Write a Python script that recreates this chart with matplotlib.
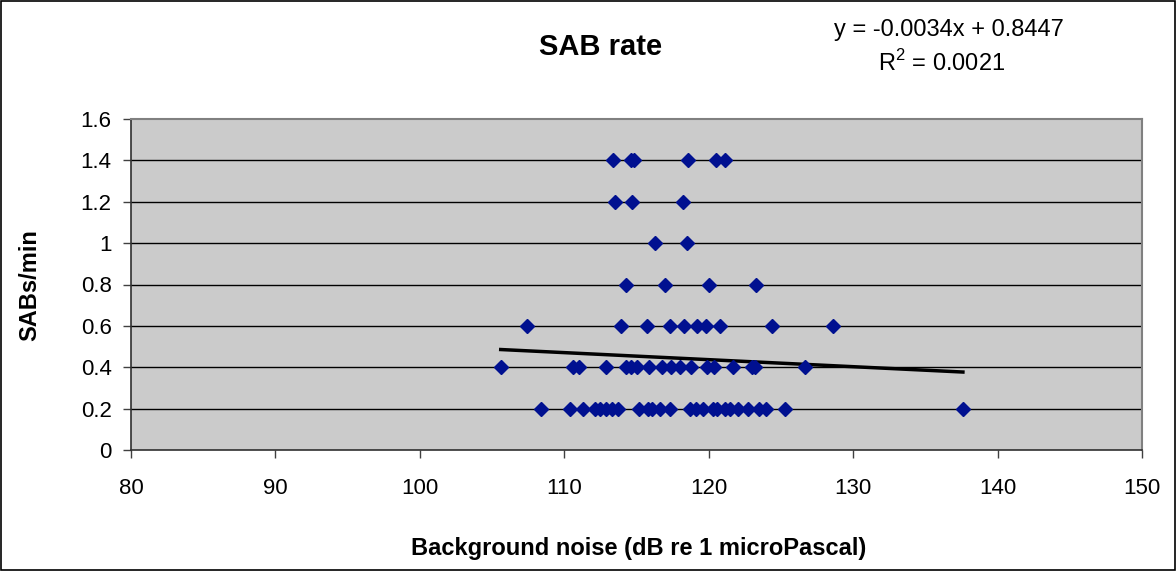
import numpy as np
import matplotlib
matplotlib.use('Agg')
import matplotlib.pyplot as plt
from matplotlib.patches import Rectangle

plt.rcParams['font.family'] = ['Liberation Sans', 'DejaVu Sans']
plt.rcParams['mathtext.fontset'] = 'custom'
plt.rcParams['mathtext.rm'] = 'Liberation Sans'

# background noise (dB) for each SAB rate level
x_02 = [108.4, 110.4, 111.3, 112.1, 112.5, 112.9, 113.3, 113.7, 115.2, 115.8,
        116.1, 116.6, 117.3, 118.7, 119.1, 119.6, 120.3, 120.6, 121.1, 121.5,
        122.0, 122.7, 123.5, 124.0, 125.3, 137.6]
x_04 = [105.6, 110.6, 111.0, 112.9, 114.3, 114.6, 115.0, 115.9, 116.8, 117.4,
        118.0, 118.8, 119.9, 120.4, 121.7, 123.0, 123.2, 126.7]
x_06 = [107.4, 113.9, 115.7, 117.3, 118.3, 119.2, 119.8, 120.8, 124.4, 128.6]
x_08 = [114.3, 117.0, 120.0, 123.3]
x_10 = [116.3, 118.5]
x_12 = [113.5, 114.7, 118.2]
x_14 = [113.4, 114.6, 114.8, 118.6, 120.5, 121.1]

levels = [0.2, 0.4, 0.6, 0.8, 1.0, 1.2, 1.4]
groups = [x_02, x_04, x_06, x_08, x_10, x_12, x_14]

slope = -0.0034
intercept = 0.8447

xs = []
ys = []
for lev, g in zip(levels, groups):
    xs += g
    ys += [lev] * len(g)
xs = np.array(xs)
ys = np.array(ys)

W, H = 1176, 571
fig = plt.figure(figsize=(W / 100, H / 100), dpi=100)
ax = fig.add_axes([131/W, 1 - 450/H, (1142 - 131)/W, (450 - 119)/H])
ax.set_facecolor('#cbcbcb')

for yv in levels:
    ax.axhline(yv, color='black', lw=1, zorder=1)

ax.plot(xs, ys, linestyle='none', marker='D', ms=7.5, color='#001090',
        markeredgecolor='#001090', zorder=3)

# linear trendline
xl = np.array([xs.min(), xs.max()])
ax.plot(xl, slope * xl + intercept, color='black', lw=2.5, zorder=2)

ax.set_xlim(80, 150)
ax.set_ylim(0, 1.6)
ax.set_xticks(range(80, 151, 10))
ax.set_yticks([0, 0.2, 0.4, 0.6, 0.8, 1, 1.2, 1.4, 1.6])
ax.set_yticklabels(['0', '0.2', '0.4', '0.6', '0.8', '1', '1.2', '1.4', '1.6'])
ax.tick_params(direction='out', length=6, width=1, labelsize=16, color='#404040')
ax.tick_params(axis='x', pad=14)
ax.tick_params(axis='y', pad=8)

for s in ['left', 'bottom']:
    ax.spines[s].set_color('#303030')
    ax.spines[s].set_linewidth(1.2)
for s in ['top', 'right']:
    ax.spines[s].set_color('#808080')
    ax.spines[s].set_linewidth(1.5)

fig.text(639/W, 1 - 549/H, 'Background noise (dB re 1 microPascal)', fontsize=17,
         fontweight='bold', ha='center', va='center')
fig.text(30/W, 1 - 285/H, 'SABs/min', fontsize=17, fontweight='bold',
         rotation=90, ha='center', va='center')

fig.text(601/W, 1 - 47/H, 'SAB rate', fontsize=21, fontweight='bold',
         ha='center', va='center')
fig.text(949/W, 1 - 30/H, 'y = -0.0034x + 0.8447', fontsize=17,
         ha='center', va='center')
fig.text(942/W, 1 - 63/H, r'R$^\mathregular{2}$ = 0.0021', fontsize=17,
         ha='center', va='center')

fig.patches.append(Rectangle((0.001, 0.001), 0.998, 0.997, transform=fig.transFigure,
                             fill=False, edgecolor='black', lw=1.2))

fig.savefig('out.png', dpi=100)
